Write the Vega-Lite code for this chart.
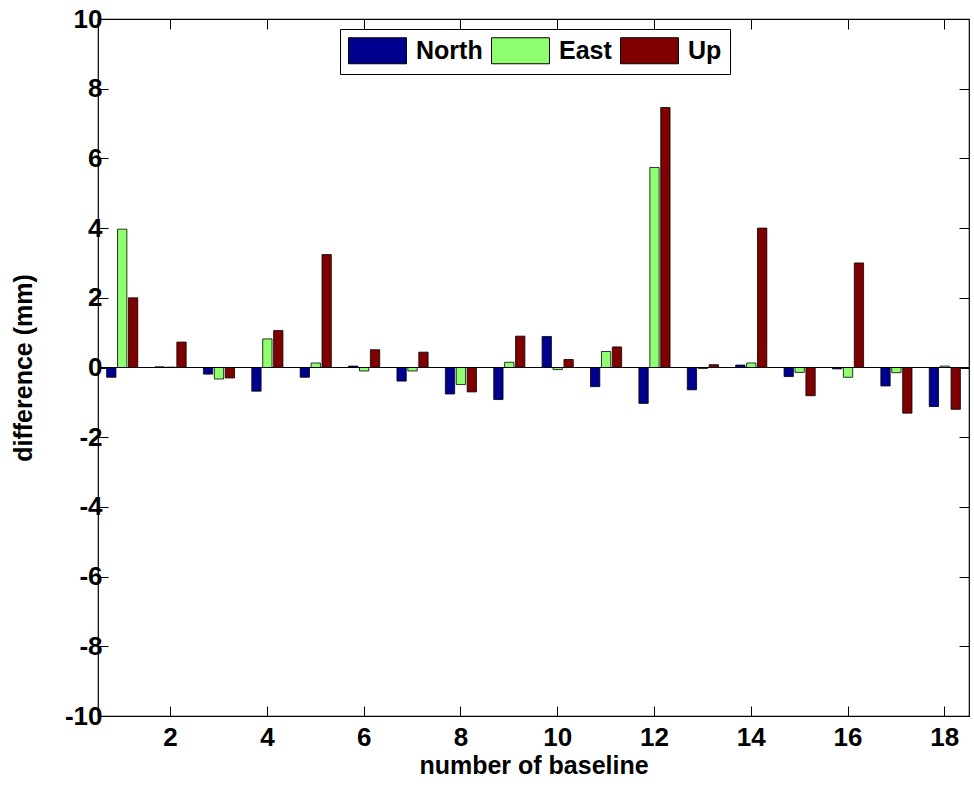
{
  "$schema": "https://vega.github.io/schema/vega-lite/v6.json",
  "width": 871,
  "height": 697,
  "autosize": "none",
  "padding": {"left": 98, "top": 19, "right": 5, "bottom": 71},
  "background": "white",
  "config": {
    "view": {"stroke": "black", "strokeWidth": 1.2},
    "font": "Liberation Sans"
  },
  "data": {
    "values": [
      {"baseline": 1, "component": "North", "value": -0.28},
      {"baseline": 1, "component": "East", "value": 3.97},
      {"baseline": 1, "component": "Up", "value": 2.0},
      {"baseline": 2, "component": "North", "value": 0.02},
      {"baseline": 2, "component": "East", "value": 0.01},
      {"baseline": 2, "component": "Up", "value": 0.73},
      {"baseline": 3, "component": "North", "value": -0.19},
      {"baseline": 3, "component": "East", "value": -0.33},
      {"baseline": 3, "component": "Up", "value": -0.3},
      {"baseline": 4, "component": "North", "value": -0.68},
      {"baseline": 4, "component": "East", "value": 0.82},
      {"baseline": 4, "component": "Up", "value": 1.06},
      {"baseline": 5, "component": "North", "value": -0.28},
      {"baseline": 5, "component": "East", "value": 0.13},
      {"baseline": 5, "component": "Up", "value": 3.24},
      {"baseline": 6, "component": "North", "value": 0.04},
      {"baseline": 6, "component": "East", "value": -0.1},
      {"baseline": 6, "component": "Up", "value": 0.51},
      {"baseline": 7, "component": "North", "value": -0.39},
      {"baseline": 7, "component": "East", "value": -0.1},
      {"baseline": 7, "component": "Up", "value": 0.44},
      {"baseline": 8, "component": "North", "value": -0.76},
      {"baseline": 8, "component": "East", "value": -0.49},
      {"baseline": 8, "component": "Up", "value": -0.7},
      {"baseline": 9, "component": "North", "value": -0.92},
      {"baseline": 9, "component": "East", "value": 0.15},
      {"baseline": 9, "component": "Up", "value": 0.9},
      {"baseline": 10, "component": "North", "value": 0.89},
      {"baseline": 10, "component": "East", "value": -0.06},
      {"baseline": 10, "component": "Up", "value": 0.23},
      {"baseline": 11, "component": "North", "value": -0.55},
      {"baseline": 11, "component": "East", "value": 0.46},
      {"baseline": 11, "component": "Up", "value": 0.59},
      {"baseline": 12, "component": "North", "value": -1.03},
      {"baseline": 12, "component": "East", "value": 5.74},
      {"baseline": 12, "component": "Up", "value": 7.46},
      {"baseline": 13, "component": "North", "value": -0.64},
      {"baseline": 13, "component": "East", "value": -0.03},
      {"baseline": 13, "component": "Up", "value": 0.08},
      {"baseline": 14, "component": "North", "value": 0.07},
      {"baseline": 14, "component": "East", "value": 0.13},
      {"baseline": 14, "component": "Up", "value": 4.0},
      {"baseline": 15, "component": "North", "value": -0.26},
      {"baseline": 15, "component": "East", "value": -0.14},
      {"baseline": 15, "component": "Up", "value": -0.81},
      {"baseline": 16, "component": "North", "value": -0.04},
      {"baseline": 16, "component": "East", "value": -0.28},
      {"baseline": 16, "component": "Up", "value": 3.0},
      {"baseline": 17, "component": "North", "value": -0.53},
      {"baseline": 17, "component": "East", "value": -0.15},
      {"baseline": 17, "component": "Up", "value": -1.31},
      {"baseline": 18, "component": "North", "value": -1.12},
      {"baseline": 18, "component": "East", "value": 0.04},
      {"baseline": 18, "component": "Up", "value": -1.2}
    ]
  },
  "layer": [
    {
      "mark": {"type": "bar", "stroke": "black", "strokeWidth": 0.8},
      "encoding": {
        "x": {
          "field": "baseline",
          "type": "ordinal",
          "scale": {"paddingInner": 0, "paddingOuter": 0},
          "axis": {
            "values": [2, 4, 6, 8, 10, 12, 14, 16, 18],
            "labelAngle": 0,
            "tickSize": -10,
            "tickColor": "black",
            "tickWidth": 1,
            "domain": false,
            "labelFontSize": 26,
            "labelFontWeight": "bold",
            "labelColor": "black",
            "labelPadding": 18,
            "title": "number of baseline",
            "titleFontSize": 25,
            "titleFontWeight": "bold",
            "titleColor": "black",
            "titlePadding": 3
          }
        },
        "xOffset": {
          "field": "component",
          "type": "nominal",
          "sort": ["North", "East", "Up"],
          "scale": {"paddingInner": 0.147, "paddingOuter": 0.79}
        },
        "y": {
          "field": "value",
          "type": "quantitative",
          "scale": {"domain": [-10, 10], "nice": false, "zero": false},
          "axis": {
            "values": [-10, -8, -6, -4, -2, 0, 2, 4, 6, 8, 10],
            "labelExpr": "datum.value < 0 ? '-' + abs(datum.value) : '' + datum.value",
            "tickSize": -10,
            "tickColor": "black",
            "tickWidth": 1,
            "domain": false,
            "grid": false,
            "labelFontSize": 26,
            "labelFontWeight": "bold",
            "labelColor": "black",
            "labelPadding": 6,
            "title": "difference (mm)",
            "titleFontSize": 25,
            "titleFontWeight": "bold",
            "titleColor": "black",
            "titlePadding": 28
          }
        },
        "color": {
          "field": "component",
          "type": "nominal",
          "scale": {"domain": ["North", "East", "Up"], "range": ["#00008F", "#8FFF70", "#800000"]},
          "legend": {
            "orient": "none",
            "legendX": 242,
            "legendY": 10,
            "direction": "horizontal",
            "columns": 3,
            "title": null,
            "padding": 8,
            "strokeColor": "black",
            "fillColor": "white",
            "labelFontSize": 25,
            "labelFontWeight": "bold",
            "labelColor": "black",
            "labelOffset": 25,
            "columnPadding": 6,
            "symbolOffset": 16,
            "symbolType": "M-2.23,-1H2.23V1H-2.23Z",
            "symbolSize": 676,
            "symbolStrokeColor": "black",
            "symbolStrokeWidth": 1,
            "symbolOpacity": 1
          }
        }
      }
    },
    {
      "mark": {"type": "rule", "color": "black", "strokeWidth": 1.2},
      "encoding": {
        "y": {"datum": 0, "type": "quantitative", "axis": null}
      }
    },
    {
      "mark": {"type": "bar", "opacity": 0},
      "encoding": {
        "x": {
          "field": "baseline",
          "type": "ordinal",
          "axis": {
            "orient": "top",
            "values": [2, 4, 6, 8, 10, 12, 14, 16, 18],
            "labels": false,
            "tickSize": -10,
            "tickColor": "black",
            "domain": false,
            "title": null
          }
        },
        "y": {
          "field": "value",
          "type": "quantitative",
          "axis": {
            "orient": "right",
            "values": [-10, -8, -6, -4, -2, 0, 2, 4, 6, 8, 10],
            "labels": false,
            "tickSize": -10,
            "tickColor": "black",
            "domain": false,
            "grid": false,
            "title": null
          }
        }
      }
    }
  ],
  "resolve": {"axis": {"x": "independent", "y": "independent"}}
}
